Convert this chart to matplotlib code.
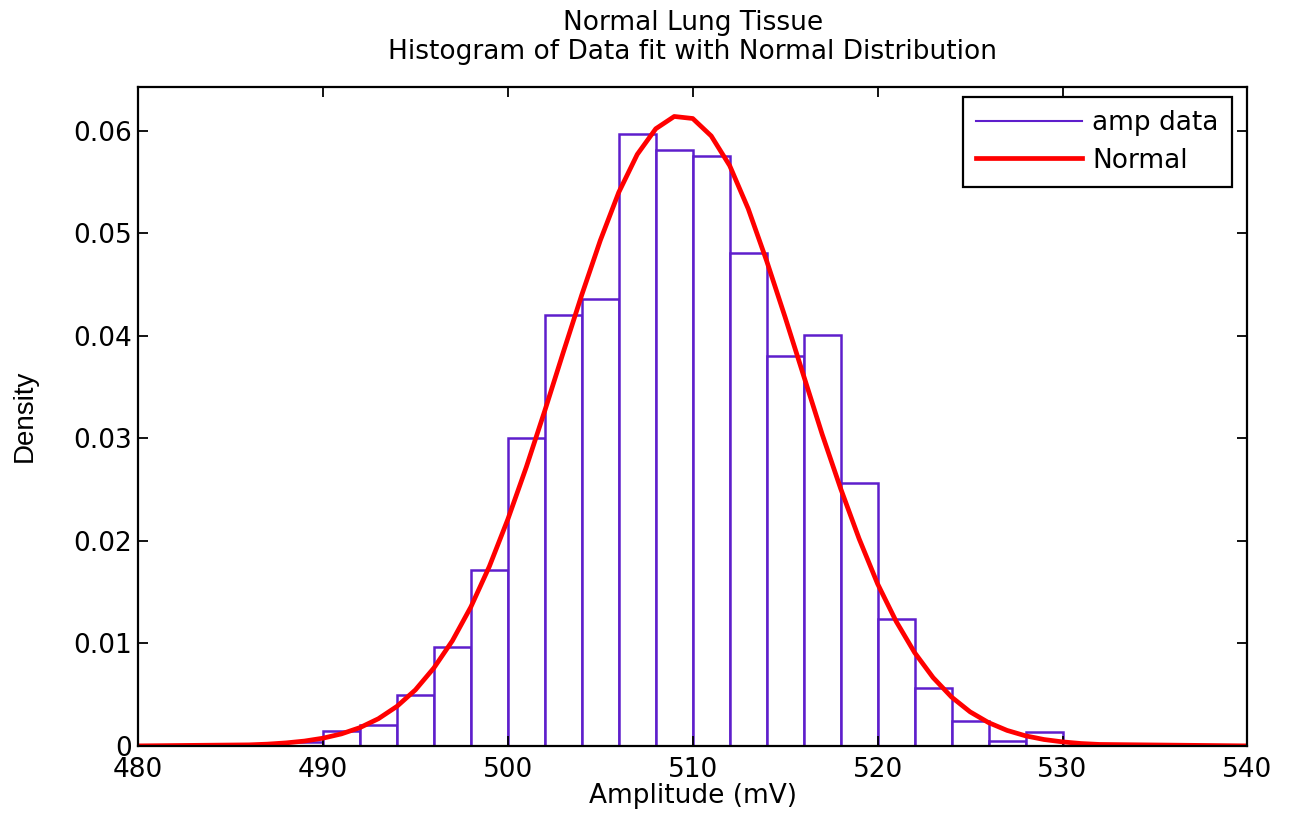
import matplotlib
matplotlib.use("Agg")
import matplotlib.pyplot as plt

# histogram bins (left edges, width 2 mV) and density
bin_left = [488, 490, 492, 494, 496, 498, 500, 502, 504, 506, 508,
            510, 512, 514, 516, 518, 520, 522, 524, 526, 528]
density = [0.0004, 0.0015, 0.0020, 0.0050, 0.0096, 0.0172, 0.0300, 0.0420,
           0.0436, 0.0597, 0.0581, 0.0575, 0.0481, 0.0380, 0.0401, 0.0256,
           0.0124, 0.0056, 0.0024, 0.0005, 0.0014]

# fitted normal curve, sampled points
fit_x = [480, 486, 487, 488, 489, 490, 491, 492, 493, 494, 495, 496, 497,
         498, 499, 500, 501, 502, 503, 504, 505, 506, 507, 508, 509, 510,
         511, 512, 513, 514, 515, 516, 517, 518, 519, 520, 521, 522, 523,
         524, 525, 526, 527, 528, 529, 530, 531, 532, 540]
fit_y = [0.0, 0.0001, 0.00017, 0.00029, 0.00047, 0.00075, 0.00117, 0.00178,
         0.00265, 0.00385, 0.00546, 0.0076, 0.01025, 0.01355, 0.0175, 0.0221,
         0.0272, 0.0327, 0.0384, 0.0440, 0.0493, 0.0540, 0.0577, 0.0602,
         0.0614, 0.0612, 0.0595, 0.0566, 0.0524, 0.0473, 0.0418, 0.0361,
         0.0304, 0.0251, 0.0202, 0.0158, 0.01215, 0.0091, 0.00666, 0.00476,
         0.00332, 0.00227, 0.00151, 0.00098, 0.00062, 0.00039, 0.00023,
         0.00014, 0.0]

xticks = [480, 490, 500, 510, 520, 530, 540]
yticks = [0, 0.01, 0.02, 0.03, 0.04, 0.05, 0.06]
ytick_labels = ["0", "0.01", "0.02", "0.03", "0.04", "0.05", "0.06"]

plt.rcParams['font.family'] = ['DejaVu Sans']

fig = plt.figure(figsize=(12.9, 8.26), dpi=100)
ax = fig.add_axes([0.107, 0.097, 0.860, 0.798])

purple = '#5e1ecc'
ax.bar(bin_left, density, width=2, align='edge', facecolor='white',
       edgecolor=purple, linewidth=1.8, label='amp data')
ax.plot(fit_x, fit_y, color='#ff0000', linewidth=3.4, label='Normal')

ax.set_xlim(480, 540)
ax.set_ylim(0, 0.0643)
ax.set_xticks(xticks)
ax.set_yticks(yticks)
ax.set_yticklabels(ytick_labels)
ax.tick_params(direction='in', top=True, right=True, labelsize=19,
               length=7, width=1.3, pad=4)
ax.tick_params(axis='x', pad=8)
for sp in ax.spines.values():
    sp.set_linewidth(1.6)

ax.set_xlabel('Amplitude (mV)', fontsize=19, labelpad=0)
ax.set_ylabel('Density', fontsize=20, labelpad=26,
              family=['Liberation Sans Narrow', 'Liberation Sans'])
ax.set_title('Normal Lung Tissue\nHistogram of Data fit with Normal Distribution',
             fontsize=19, pad=20, linespacing=1.15)

leg = ax.legend(loc='upper right', bbox_to_anchor=(0.986, 0.985),
                fontsize=19, fancybox=False, framealpha=1,
                edgecolor='black', handlelength=4.0, borderpad=0.5,
                handletextpad=0.4, labelspacing=0.45, borderaxespad=0,
                handles=[plt.Line2D([], [], color=purple, lw=1.5),
                         plt.Line2D([], [], color='#ff0000', lw=3.4)],
                labels=['amp data', 'Normal'])
leg.get_frame().set_linewidth(1.6)

fig.savefig('out.png', dpi=100)
